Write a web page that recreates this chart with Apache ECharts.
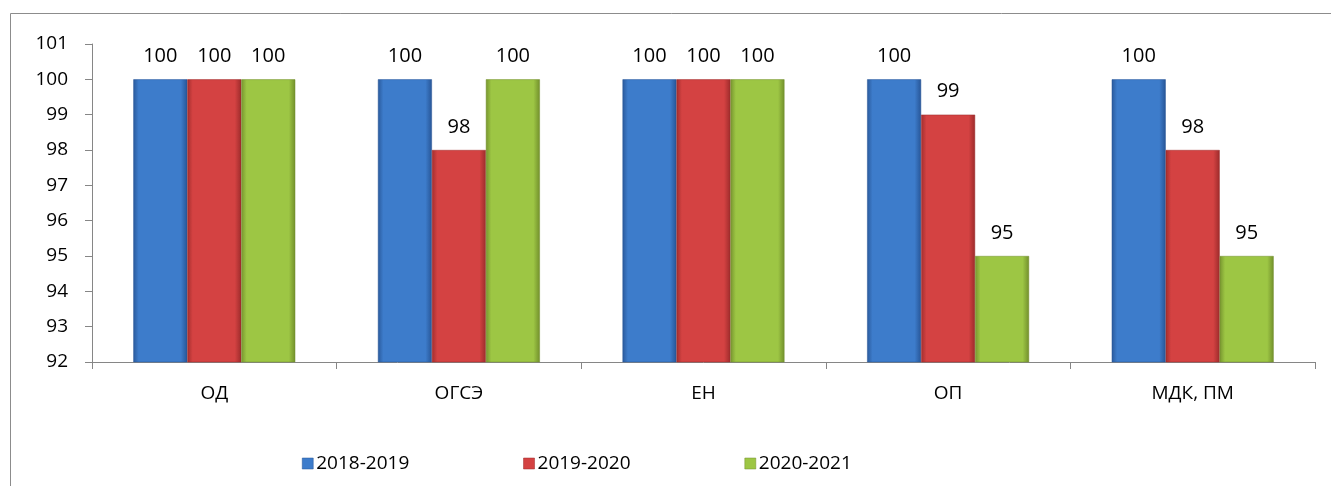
<!DOCTYPE html>
<html><head><meta charset="utf-8">
<script src="https://cdn.jsdelivr.net/npm/echarts@6/dist/echarts.min.js"></script>
<style>html,body{margin:0;padding:0;background:#fff}#c{width:1331px;height:486px}</style>
</head><body><div id="c"></div>
<script>
const categories = ['ОД', 'ОГСЭ', 'ЕН', 'ОП', 'МДК, ПМ'];
const seriesNames = ['2018-2019', '2019-2020', '2020-2021'];
const s2018 = [100, 100, 100, 100, 100];
const s2019 = [100, 98, 100, 99, 98];
const s2020 = [100, 100, 100, 95, 95];
const yTicks = [92, 93, 94, 95, 96, 97, 98, 99, 100, 101];

const baseColors = [
  ['#2a5a9c', '#3d7ccb', '#275596'],
  ['#a32e2e', '#d44242', '#9c2b2b'],
  ['#77952f', '#9dc644', '#728f2c']
];
function grad(c) {
  return new echarts.graphic.LinearGradient(0, 0, 1, 0, [
    {offset: 0, color: c[0]}, {offset: 0.1, color: c[1]},
    {offset: 0.88, color: c[1]}, {offset: 1, color: c[2]}
  ]);
}
const font = '"Open Sans", "Noto Sans", sans-serif';
const data = [s2018, s2019, s2020];
const chart = echarts.init(document.getElementById('c'));
chart.setOption({
  animation: false,
  backgroundColor: '#fff',
  textStyle: {fontFamily: font},
  graphic: [{type: 'rect', shape: {x: 10.5, y: 13.5, width: 1400, height: 600},
    style: {fill: 'none', stroke: '#8c8c8c', lineWidth: 1}, silent: true}],
  grid: {left: 92, right: 16, top: 44, bottom: 124},
  legend: {
    bottom: 8, left: 297, itemGap: 114, itemWidth: 11, itemHeight: 11,
    textStyle: {fontFamily: font, fontSize: 19, color: '#000', padding: [0, 0, 0, -2]},
    data: seriesNames.map((n, i) => ({name: n, icon: 'rect', itemStyle: {color: baseColors[i][1], borderColor: baseColors[i][2], borderWidth: 0.5}}))
  },
  xAxis: {
    type: 'category', data: categories,
    axisLine: {lineStyle: {color: '#868686'}},
    axisTick: {show: true, length: 7, lineStyle: {color: '#868686'}},
    axisLabel: {fontFamily: font, fontSize: 19, color: '#000', margin: 22},
  },
  yAxis: {
    type: 'value', min: 92, max: 101, interval: 1,
    axisLine: {show: true, lineStyle: {color: '#868686'}},
    axisTick: {show: true, length: 7, lineStyle: {color: '#868686'}},
    splitLine: {show: false},
    axisLabel: {fontFamily: font, fontSize: 19, color: '#000', margin: 24,
      formatter: v => yTicks.includes(v) ? String(v) : ''}
  },
  series: seriesNames.map((n, i) => ({
    name: n, type: 'bar', data: data[i],
    barGap: '0%', barCategoryGap: '33.8%',
    itemStyle: {color: grad(baseColors[i]), borderColor: baseColors[i][2], borderWidth: 0.5},
    label: {show: true, position: 'top', distance: 13, fontFamily: font, fontSize: 20, color: '#000'}
  }))
});
</script></body></html>
